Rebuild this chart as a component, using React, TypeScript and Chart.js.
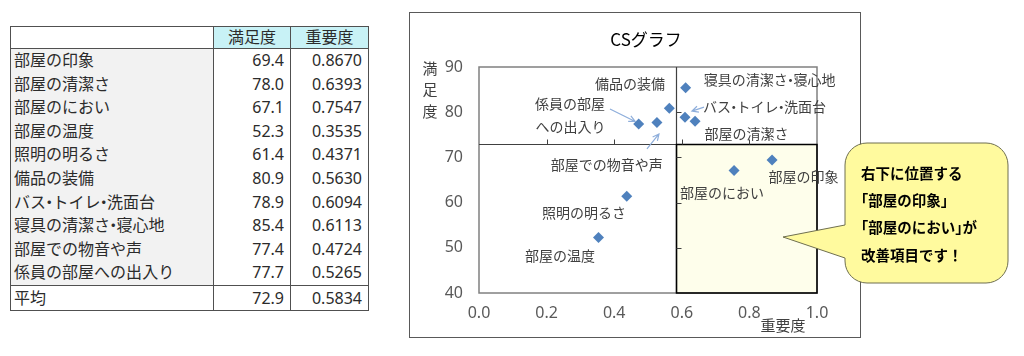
import React, { useEffect, useRef } from 'react';
import { Chart, registerables } from 'chart.js';

Chart.register(...registerables);

// ---------- data ----------
const items = [
  '部屋の印象',
  '部屋の清潔さ',
  '部屋のにおい',
  '部屋の温度',
  '照明の明るさ',
  '備品の装備',
  'バス・トイレ・洗面台',
  '寝具の清潔さ・寝心地',
  '部屋での物音や声',
  '係員の部屋への出入り',
];
const satisfaction = [69.4, 78.0, 67.1, 52.3, 61.4, 80.9, 78.9, 85.4, 77.4, 77.7];
const importance = [0.867, 0.6393, 0.7547, 0.3535, 0.4371, 0.563, 0.6094, 0.6113, 0.4724, 0.5265];
const averageLabel = '平均';
const averageSatisfaction = 72.9;
const averageImportance = 0.5834;
const headerLabels = ['', '満足度', '重要度'];
const xRange = [0, 1, 0.2];
const yRange = [40, 90, 10];
const chartTitle = 'CSグラフ';
const xTitle = '重要度';
const yTitle = '満足度';
const calloutLines = ['右下に位置する', '「部屋の印象」', '「部屋のにおい」が', '改善項目です！'];

// ---------- label layout (pixel offsets from each point) ----------
const pointLabelLines: string[][] = [
  ['部屋の印象'],
  ['部屋の清潔さ'],
  ['部屋のにおい'],
  ['部屋の温度'],
  ['照明の明るさ'],
  ['備品の装備'],
  ['バス・トイレ・洗面台'],
  ['寝具の清潔さ・寝心地'],
  ['部屋での物音や声'],
  ['係員の部屋', 'への出入り'],
];
const pointLabelOffsets: number[][][] = [
  [[31.5, 17]],
  [[51.5, 12]],
  [[-12, 22.5]],
  [[-38.5, 18.6]],
  [[-42.7, 16.7]],
  [[-39.3, -24]],
  [[79.5, -10]],
  [[84, -8]],
  [[-32, 41]],
  [[-87, -18.6], [-86.5, 4.4]],
];
// arrows: [point index, fromDx, fromDy, toDx, toDy]
const arrowLayout = [
  [8, -28.7, -15, -3.5, -2.5],
  [9, -10, 26.4, 2, 11.4],
  [6, 19, -10, 7, -6],
];

const CANVAS_LEFT = 400;
const JP = "'Noto Sans CJK JP', sans-serif";
const LATIN = "'Noto Sans', 'Noto Sans CJK JP', sans-serif";

// narrow punctuation: [glyph offset (em), advance (em)]
const compactChars: Record<string, number[]> = {
  '・': [-0.3, 0.4],
  '「': [-0.5, 0.5],
  '」': [0, 0.5],
};

function measureCompact(ctx: CanvasRenderingContext2D, text: string, size: number) {
  let w = 0;
  for (const ch of Array.from(text)) {
    const c = compactChars[ch];
    w += c ? c[1] * size : ctx.measureText(ch).width;
  }
  return w;
}

function fillCompact(
  ctx: CanvasRenderingContext2D,
  text: string,
  x: number,
  y: number,
  align: string,
  size: number
) {
  const total = measureCompact(ctx, text, size);
  let cur = align === 'center' ? x - total / 2 : align === 'right' ? x - total : x;
  ctx.textAlign = 'left';
  for (const ch of Array.from(text)) {
    const c = compactChars[ch];
    if (c) {
      ctx.fillText(ch, cur + c[0] * size, y);
      cur += c[1] * size;
    } else {
      ctx.fillText(ch, cur, y);
      cur += ctx.measureText(ch).width;
    }
  }
}

function drawArrow(ctx: CanvasRenderingContext2D, x1: number, y1: number, x2: number, y2: number) {
  const ang = Math.atan2(y2 - y1, x2 - x1);
  const h = 7;
  ctx.beginPath();
  ctx.moveTo(x1, y1);
  ctx.lineTo(x2, y2);
  ctx.moveTo(x2 - h * Math.cos(ang - 0.45), y2 - h * Math.sin(ang - 0.45));
  ctx.lineTo(x2, y2);
  ctx.lineTo(x2 - h * Math.cos(ang + 0.45), y2 - h * Math.sin(ang + 0.45));
  ctx.stroke();
}

const csPlugin = {
  id: 'csDecor',
  beforeDraw(chart: any) {
    const { ctx } = chart;
    ctx.save();
    ctx.fillStyle = '#ffffff';
    ctx.fillRect(409.5 - CANVAS_LEFT, 12.5, 451, 325);
    ctx.strokeStyle = '#595959';
    ctx.lineWidth = 1;
    ctx.strokeRect(409.5 - CANVAS_LEFT, 12.5, 451, 325);
    ctx.restore();
  },
  beforeDatasetsDraw(chart: any) {
    const { ctx, chartArea: a, scales } = chart;
    const xs = scales.x;
    const ys = scales.y;
    const mx = Math.round(xs.getPixelForValue(averageImportance)) + 0.5;
    const my = Math.round(ys.getPixelForValue(averageSatisfaction)) + 0.5;
    ctx.save();
    // improvement quadrant
    ctx.fillStyle = '#fefeeb';
    ctx.fillRect(mx, my, a.right - mx, a.bottom - my);
    // plot border
    ctx.strokeStyle = '#808080';
    ctx.lineWidth = 1.5;
    ctx.strokeRect(a.left, a.top, a.right - a.left, a.bottom - a.top);
    // mean lines
    ctx.strokeStyle = '#404040';
    ctx.lineWidth = 1.2;
    ctx.beginPath();
    ctx.moveTo(a.left, my);
    ctx.lineTo(a.right, my);
    ctx.moveTo(mx, a.top);
    ctx.lineTo(mx, a.bottom);
    ctx.stroke();
    ctx.strokeStyle = '#000000';
    ctx.lineWidth = 1.5;
    ctx.strokeRect(mx, my, a.right - mx, a.bottom - my);
    // tick marks on crossing axes
    ctx.strokeStyle = '#404040';
    ctx.lineWidth = 1;
    ctx.beginPath();
    for (let v = xRange[0] + xRange[2]; v < xRange[1] - 1e-9; v += xRange[2]) {
      const px = Math.round(xs.getPixelForValue(v)) + 0.5;
      ctx.moveTo(px, my);
      ctx.lineTo(px, my - 5);
    }
    for (let v = yRange[0] + yRange[2]; v < yRange[1] - 1e-9; v += yRange[2]) {
      const py = Math.round(ys.getPixelForValue(v)) + 0.5;
      ctx.moveTo(mx, py);
      ctx.lineTo(mx + 5, py);
    }
    ctx.stroke();
    ctx.restore();
  },
  afterDatasetsDraw(chart: any) {
    const { ctx, scales } = chart;
    const xs = scales.x;
    const ys = scales.y;
    ctx.save();
    // point labels
    ctx.fillStyle = '#404040';
    ctx.font = `14px ${JP}`;
    ctx.textBaseline = 'middle';
    items.forEach((_, i) => {
      const px = xs.getPixelForValue(importance[i]);
      const py = ys.getPixelForValue(satisfaction[i]);
      pointLabelLines[i].forEach((line, j) => {
        const [dx, dy] = pointLabelOffsets[i][j];
        fillCompact(ctx, line, px + dx, py + dy, 'center', 14);
      });
    });
    // arrows
    ctx.strokeStyle = '#8eaedb';
    ctx.lineWidth = 1.2;
    arrowLayout.forEach(([i, fx, fy, tx, ty]) => {
      const px = xs.getPixelForValue(importance[i]);
      const py = ys.getPixelForValue(satisfaction[i]);
      drawArrow(ctx, px + fx, py + fy, px + tx, py + ty);
    });
    // title
    ctx.fillStyle = '#000000';
    ctx.textAlign = 'center';
    ctx.font = `17px ${JP}`;
    ctx.fillText(chartTitle, 646 - CANVAS_LEFT, 40);
    // axis titles
    ctx.fillStyle = '#404040';
    ctx.font = `15px ${JP}`;
    ctx.fillText(xTitle, 783 - CANVAS_LEFT, 325);
    Array.from(yTitle).forEach((ch, k) => {
      ctx.fillText(ch, 430 - CANVAS_LEFT, 68 + k * 21.5);
    });
    ctx.restore();
  },
  afterDraw(chart: any) {
    const { ctx } = chart;
    const x0 = 845 - CANVAS_LEFT;
    const x1 = 1008 - CANVAS_LEFT;
    const y0 = 143;
    const y1 = 283;
    const r = 22;
    const tip = [783 - CANVAS_LEFT, 237];
    ctx.save();
    ctx.beginPath();
    ctx.moveTo(x0 + r, y0);
    ctx.lineTo(x1 - r, y0);
    ctx.arcTo(x1, y0, x1, y0 + r, r);
    ctx.lineTo(x1, y1 - r);
    ctx.arcTo(x1, y1, x1 - r, y1, r);
    ctx.lineTo(x0 + r, y1);
    ctx.arcTo(x0, y1, x0, y1 - r, r);
    ctx.lineTo(x0, 258);
    ctx.lineTo(tip[0], tip[1]);
    ctx.lineTo(x0, 225);
    ctx.lineTo(x0, y0 + r);
    ctx.arcTo(x0, y0, x0 + r, y0, r);
    ctx.closePath();
    ctx.fillStyle = '#fffa9e';
    ctx.fill();
    ctx.strokeStyle = '#6f6f4f';
    ctx.lineWidth = 1;
    ctx.stroke();
    ctx.fillStyle = '#000000';
    ctx.font = `bold 14.5px ${JP}`;
    ctx.textBaseline = 'middle';
    const lineYs = [173, 200, 227, 255];
    calloutLines.forEach((line, k) => {
      fillCompact(ctx, line, 861 - CANVAS_LEFT, lineYs[k], 'left', 14.5);
    });
    ctx.restore();
  },
};

const border = '1px solid #505050';

function compactText(text: string) {
  return Array.from(text).map((ch, k) =>
    ch === '・' ? (
      <span key={k} style={{ margin: '0 -0.3em' }}>
        {ch}
      </span>
    ) : (
      ch
    )
  );
}

function DataTable() {
  const cellBase: React.CSSProperties = { padding: 0, height: 23.6, lineHeight: '23.6px', whiteSpace: 'nowrap' };
  const numCell: React.CSSProperties = { ...cellBase, textAlign: 'right', paddingRight: 6, borderLeft: border };
  const avgCell: React.CSSProperties = { height: 24.5, lineHeight: '24.5px', borderTop: border };
  return (
    <table
      style={{
        position: 'absolute',
        left: 10,
        top: 26,
        width: 358,
        borderCollapse: 'collapse',
        tableLayout: 'fixed',
        fontFamily: LATIN,
        fontSize: 16,
        color: '#2b2b2b',
        border,
      }}
    >
      <colgroup>
        <col style={{ width: 203 }} />
        <col style={{ width: 77 }} />
        <col style={{ width: 78 }} />
      </colgroup>
      <thead>
        <tr>
          {headerLabels.map((h, k) => (
            <th
              key={k}
              style={{
                ...cellBase,
                height: 21,
                lineHeight: '21px',
                fontWeight: 'normal',
                textAlign: 'center',
                background: k === 0 ? '#ffffff' : '#c8f2f6',
                borderBottom: border,
                borderLeft: k > 0 ? border : undefined,
              }}
            >
              {h}
            </th>
          ))}
        </tr>
      </thead>
      <tbody>
        {items.map((name, i) => (
          <tr key={name}>
            <td style={{ ...cellBase, paddingLeft: 3, background: '#f2f2f2' }}>{compactText(name)}</td>
            <td style={numCell}>{satisfaction[i].toFixed(1)}</td>
            <td style={numCell}>{importance[i].toFixed(4)}</td>
          </tr>
        ))}
        <tr>
          <td style={{ ...cellBase, ...avgCell, paddingLeft: 3 }}>{averageLabel}</td>
          <td style={{ ...numCell, ...avgCell }}>{averageSatisfaction.toFixed(1)}</td>
          <td style={{ ...numCell, ...avgCell }}>{averageImportance.toFixed(4)}</td>
        </tr>
      </tbody>
    </table>
  );
}

export default function App() {
  const ref = useRef<HTMLCanvasElement>(null);
  useEffect(() => {
    const canvas = ref.current;
    if (!canvas) return;
    const chart = new Chart(canvas, {
      type: 'scatter',
      data: {
        datasets: [
          {
            label: yTitle,
            data: importance.map((x, i) => ({ x, y: satisfaction[i] })),
            pointStyle: 'rectRot',
            pointRadius: 5.5,
            pointHoverRadius: 5.5,
            backgroundColor: '#4f81bd',
            borderColor: '#4f81bd',
            borderWidth: 0,
          },
        ],
      },
      options: {
        responsive: false,
        animation: false,
        events: [],
        layout: { padding: { left: 39, right: 207, top: 67, bottom: 33 } },
        plugins: { legend: { display: false }, tooltip: { enabled: false }, title: { display: false } },
        scales: {
          x: {
            type: 'linear',
            min: xRange[0],
            max: xRange[1],
            grid: { display: false, drawTicks: false },
            border: { display: false },
            ticks: {
              stepSize: xRange[2],
              padding: 11,
              color: '#595959',
              maxRotation: 0,
              font: { family: LATIN, size: 16 },
              callback: (v: any) => Number(v).toFixed(1),
            },
            afterFit: (s: any) => {
              s.height = 30;
            },
          },
          y: {
            type: 'linear',
            min: yRange[0],
            max: yRange[1],
            grid: { display: false, drawTicks: false },
            border: { display: false },
            ticks: {
              stepSize: yRange[2],
              padding: 16,
              color: '#595959',
              font: { family: LATIN, size: 16 },
            },
            afterFit: (s: any) => {
              s.width = 40;
            },
          },
        },
      },
      plugins: [csPlugin],
    } as any);
    return () => chart.destroy();
  }, []);

  return (
    <div style={{ position: 'absolute', left: 0, top: 0, width: 1024, height: 356, background: '#ffffff' }}>
      <DataTable />
      <canvas
        ref={ref}
        width={624}
        height={356}
        style={{ position: 'absolute', left: CANVAS_LEFT, top: 0, width: 624, height: 356 }}
      />
    </div>
  );
}
